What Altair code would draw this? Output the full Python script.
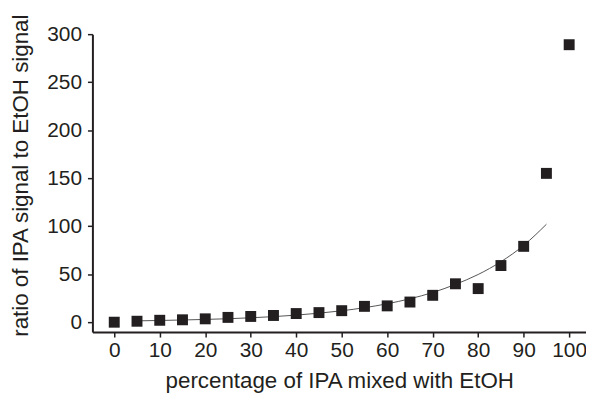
import altair as alt
import pandas as pd

# Measured points
pct = [0, 5, 10, 15, 20, 25, 30, 35, 40, 45, 50, 55, 60, 65, 70, 75, 80, 85, 90, 95, 100]
ratio = [0, 1, 2, 2.5, 3.5, 5, 6, 7, 9, 10, 12, 16.5, 17, 21, 28, 40, 35, 59, 79, 155, 289]

# Fitted curve
fit_x = [5, 10, 15, 20, 25, 30, 35, 40, 45, 50, 55, 60, 65, 70, 75, 80, 85, 90, 95]
fit_y = [1.4, 1.8, 2.3, 2.9, 3.6, 4.6, 5.8, 7.4, 9.4, 11.9, 15.1, 19.2, 24.4, 30.9, 39.4, 49.7, 63, 80, 102]

pts = pd.DataFrame({"pct": pct, "ratio": ratio})
fit = pd.DataFrame({"pct": fit_x, "ratio": fit_y})

FONT = "Liberation Sans"
INK = "#231f20"

xscale = alt.Scale(domain=[-4.8, 103.7], nice=False, zero=False)
yscale = alt.Scale(domain=[-10.3, 300], nice=False, zero=False)

xaxis = alt.Axis(values=list(range(0, 101, 10)), title="percentage of IPA mixed with EtOH",
                 grid=False, tickSize=5, labelPadding=3, titlePadding=9)
yaxis = alt.Axis(values=list(range(0, 301, 50)), title="ratio of IPA signal to EtOH signal",
                 grid=False, tickSize=5, labelPadding=6, titlePadding=14, titleY=142)

line = alt.Chart(fit).mark_line(color="#555555", strokeWidth=1, interpolate="monotone").encode(
    x=alt.X("pct:Q", scale=xscale, axis=xaxis),
    y=alt.Y("ratio:Q", scale=yscale, axis=yaxis),
)

points = alt.Chart(pts).mark_point(shape="square", filled=True, size=121, color=INK, opacity=1).encode(
    x=alt.X("pct:Q", scale=xscale),
    y=alt.Y("ratio:Q", scale=yscale),
)

chart = alt.layer(line, points).properties(
    width=497, height=300,
    autosize=alt.AutoSizeParams(type="none"),
    padding={"left": 85, "top": 25, "right": 0, "bottom": 60},
).configure_view(stroke=None).configure_axis(
    labelFont=FONT, titleFont=FONT, labelFontSize=21, titleFontSize=22.5,
    titleFontWeight="normal", labelColor=INK, titleColor=INK,
    domainColor=INK, tickColor=INK, domainWidth=2, tickWidth=1.5,
)

chart.save("out.html", embed_options={"renderer": "svg", "actions": False})
